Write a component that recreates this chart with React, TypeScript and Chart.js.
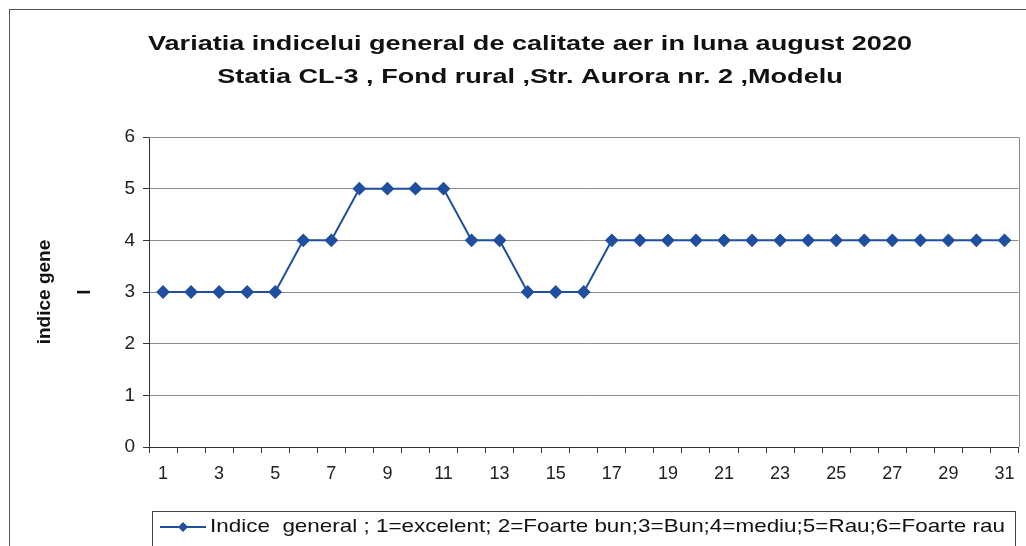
import React, { useEffect, useRef } from 'react';
import { Chart, registerables } from 'chart.js';

Chart.register(...registerables);

const days = ['1','2','3','4','5','6','7','8','9','10','11','12','13','14','15','16','17','18','19','20','21','22','23','24','25','26','27','28','29','30','31'];
const indexValues = [3,3,3,3,3,4,4,5,5,5,5,4,4,3,3,3,4,4,4,4,4,4,4,4,4,4,4,4,4,4,4];
const yTicks = [0,1,2,3,4,5,6];
const titleLines = ['Variatia indicelui general de calitate aer in luna august 2020', 'Statia CL-3 , Fond rural ,Str. Aurora nr. 2 ,Modelu'];
const yTitleLines = ['indice gene', 'l'];
const seriesLabel = 'Indice  general ; 1=excelent; 2=Foarte bun;3=Bun;4=mediu;5=Rau;6=Foarte rau';

const LINE = '#1f4f9e';
const FONT = "'Liberation Sans', Arial, sans-serif";

const framePlugin = {
  id: 'frame',
  beforeDraw(chart: any) {
    const ctx = chart.ctx;
    ctx.save();
    ctx.fillStyle = '#ffffff';
    ctx.fillRect(0, 0, chart.width, chart.height);
    ctx.strokeStyle = '#555';
    ctx.lineWidth = 1;
    ctx.strokeRect(9.5, 9.5, chart.width + 20, chart.height + 20);
    ctx.restore();
  },
  afterDraw(chart: any) {
    const ctx = chart.ctx;
    const a = chart.chartArea;
    ctx.save();
    // plot frame (top and right)
    ctx.strokeStyle = '#8c8c8c';
    ctx.lineWidth = 1;
    ctx.beginPath();
    ctx.moveTo(a.left, Math.round(a.top) + 0.5);
    ctx.lineTo(Math.round(a.right) + 0.5, Math.round(a.top) + 0.5);
    ctx.lineTo(Math.round(a.right) + 0.5, a.bottom);
    ctx.stroke();

    // title, stretched horizontally like the original
    ctx.fillStyle = '#111';
    ctx.font = `bold 20px ${FONT}`;
    ctx.textBaseline = 'alphabetic';
    ctx.textAlign = 'center';
    const w1 = ctx.measureText(titleLines[0]).width;
    const sx = 764 / w1;
    const cx = 530;
    [50, 83].forEach((by, i) => {
      ctx.save();
      ctx.translate(cx, by);
      ctx.scale(sx, 1);
      ctx.fillText(titleLines[i], 0, 0);
      ctx.restore();
    });

    // legend
    const ly = 527;
    ctx.strokeStyle = '#444';
    ctx.lineWidth = 1;
    ctx.strokeRect(152.5, 511.5, 863, 60);
    ctx.strokeStyle = LINE;
    ctx.lineWidth = 1.8;
    ctx.beginPath();
    ctx.moveTo(160, ly);
    ctx.lineTo(206, ly);
    ctx.stroke();
    ctx.fillStyle = LINE;
    ctx.beginPath();
    ctx.moveTo(183, ly - 5);
    ctx.lineTo(188, ly);
    ctx.lineTo(183, ly + 5);
    ctx.lineTo(178, ly);
    ctx.closePath();
    ctx.fill();
    ctx.fillStyle = '#111';
    ctx.font = `19px ${FONT}`;
    ctx.textAlign = 'left';
    ctx.textBaseline = 'middle';
    const lw = ctx.measureText(chart.data.datasets[0].label).width;
    ctx.save();
    ctx.translate(210, ly);
    ctx.scale(795 / lw, 1);
    ctx.fillText(chart.data.datasets[0].label, 0, 0);
    ctx.restore();
    ctx.restore();
  },
};

export default function App() {
  const ref = useRef<HTMLCanvasElement | null>(null);
  useEffect(() => {
    if (!ref.current) return;
    const chart = new Chart(ref.current, {
      type: 'line',
      data: {
        labels: days,
        datasets: [{
          label: seriesLabel,
          data: indexValues,
          borderColor: LINE,
          backgroundColor: LINE,
          borderWidth: 2,
          pointStyle: 'rectRot',
          pointRadius: 5.5,
          pointBackgroundColor: LINE,
          pointBorderColor: LINE,
          tension: 0,
        }],
      },
      options: {
        animation: false,
        responsive: false,
        devicePixelRatio: 1,
        layout: { padding: { left: 0, right: 1, top: 137, bottom: 33 } },
        plugins: {
          title: { display: false },
          legend: { display: false },
          tooltip: { enabled: false },
        },
        scales: {
          x: {
            type: 'category',
            offset: true,
            afterFit: (s: any) => { s.height = 66; },
            grid: { offset: true, drawOnChartArea: false, drawTicks: true, tickLength: 6, color: '#333' },
            border: { color: '#333', width: 1 },
            ticks: {
              autoSkip: false,
              maxRotation: 0,
              padding: 10,
              color: '#222',
              font: { family: FONT, size: 18 },
              callback: function (this: any, v: any, i: number) { return i % 2 === 0 ? days[i] : ''; },
            },
          },
          y: {
            min: 0,
            max: 6,
            afterFit: (s: any) => { s.width = 149; },
            afterBuildTicks: (s: any) => { s.ticks = yTicks.map((v) => ({ value: v })); },
            grid: { color: '#8c8c8c', tickColor: '#333', tickLength: 6, drawTicks: true },
            border: { color: '#333', width: 1 },
            ticks: { color: '#222', padding: 8, font: { family: FONT, size: 19 } },
            title: {
              display: true,
              text: yTitleLines,
              color: '#111',
              font: { family: FONT, size: 19, weight: 'bold', lineHeight: 2.1 },
              padding: { top: 25, bottom: 0 },
            },
          },
        },
      },
      plugins: [framePlugin],
    });
    return () => chart.destroy();
  }, []);
  return (
    <div style={{ position: 'fixed', left: 0, top: 0, width: 1026, height: 546, background: '#fff' }}>
      <canvas ref={ref} width={1026} height={546} style={{ display: 'block' }} />
    </div>
  );
}
